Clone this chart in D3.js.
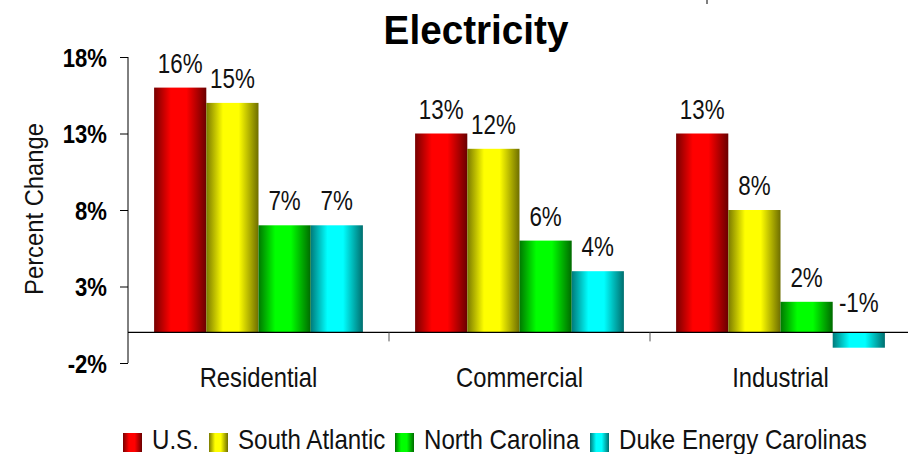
<!DOCTYPE html>
<html><head><meta charset="utf-8">
<script src="https://cdn.jsdelivr.net/npm/d3@7"></script>
<style>
body{margin:0;background:#fff;}
svg{display:block;font-family:"Liberation Sans",Arial,sans-serif;}
</style></head>
<body><svg id="c" width="908" height="454"></svg>
<script>
const categories = ["Residential","Commercial","Industrial"];
const seriesNames = ["U.S.","South Atlantic","North Carolina","Duke Energy Carolinas"];
const usValues = [16,13,13];
const southAtlanticValues = [15,12,8];
const northCarolinaValues = [7,6,2];
const dukeValues = [7,4,-1];
const yTicks = [-2,3,8,13,18];
const seriesValues = [usValues, southAtlanticValues, northCarolinaValues, dukeValues];
const baseColors = [["#780000","#ff0000","#6a0000"],["#7a7a00","#ffff00","#6e6e00"],["#007800","#00ff00","#006a00"],["#007a7a","#00ffff","#006e6e"]];

const svg = d3.select("#c");
const defs = svg.append("defs");
baseColors.forEach((c,i)=>{
  const g = defs.append("linearGradient").attr("id","g"+i).attr("x1","0").attr("x2","1").attr("y1","0").attr("y2","0");
  g.append("stop").attr("offset","0%").attr("stop-color",c[0]);
  g.append("stop").attr("offset","32%").attr("stop-color",c[1]);
  g.append("stop").attr("offset","62%").attr("stop-color",c[1]);
  g.append("stop").attr("offset","100%").attr("stop-color",c[2]);
});

// narrow text helper
function ntext(parent, x, y, sx, size, txt, anchor, weight, rot){
  const t = parent.append("text")
    .attr("transform",`translate(${x},${y})${rot?` rotate(${rot})`:""} scale(${sx},1)`)
    .attr("text-anchor",anchor||"start")
    .style("font-size",size+"px").attr("fill","#111").text(txt);
  if(weight) t.style("font-weight",weight);
  return t;
}

const x0 = d3.scaleBand().domain(categories).range([128,911]).paddingInner(0).paddingOuter(0);
const x1 = d3.scaleBand().domain(seriesNames).range([0,x0.bandwidth()]).paddingOuter(0.5).paddingInner(0);
const y = d3.scaleLinear().domain([-2,18]).range([363,57]);

// title
ntext(svg, 476, 44, 0.955, 40.5, "Electricity", "middle", "bold").attr("fill","#000");
svg.append("line").attr("x1",707).attr("x2",707).attr("y1",0).attr("y2",4).attr("stroke","#000");

// bars
const barData = (d,ci)=>seriesNames.map((s,si)=>({s,si,v:seriesValues[si][ci]}));
const groups = svg.append("g").selectAll("g").data(categories).join("g")
  .attr("transform",d=>`translate(${x0(d)},0)`);
groups.selectAll("rect").data(barData)
  .join("rect")
  .attr("x",d=>x1(d.s)).attr("width",x1.bandwidth())
  .attr("y",d=>y(Math.max(0,d.v))).attr("height",d=>Math.abs(y(d.v)-y(0)))
  .attr("fill",d=>`url(#g${d.si})`);
groups.each(function(cat,ci){
  const g = d3.select(this);
  barData(cat,ci).forEach(d=>{
    ntext(g, x1(d.s)+x1.bandwidth()/2, d.v>=0 ? y(d.v)-15 : y(0)-20, 0.8, 28, d.v+"%", "middle");
  });
});

// y axis
const yAxis = d3.axisLeft(y).tickValues(yTicks).tickSize(8).tickPadding(13).tickFormat(d=>d+"%");
const ya = svg.append("g").attr("transform","translate(128,0)").call(yAxis);
ya.select(".domain").attr("d","M0,57V363").attr("stroke","#000");
ya.selectAll(".tick line").attr("stroke","#000");
ya.selectAll(".tick text")
  .attr("transform","scale(0.85,1)").attr("x",-21/0.85).attr("dy","0.35em")
  .style("font-size","26px").style("font-weight","bold").attr("fill","#000")
  .style("font-family","'Liberation Sans',Arial,sans-serif");

// x axis at zero
svg.append("line").attr("x1",128).attr("x2",908).attr("y1",y(0)).attr("y2",y(0)).attr("stroke","#000").attr("stroke-width",1.2);
svg.append("g").selectAll("line").data(categories.slice(1)).join("line")
  .attr("x1",d=>x0(d)).attr("x2",d=>x0(d)).attr("y1",y(0)).attr("y2",y(0)+9).attr("stroke","#555");
const cl = svg.append("g");
categories.forEach(c=>ntext(cl, x0(c)+x0.bandwidth()/2, 387, 0.85, 28, c, "middle"));

// y label
ntext(svg, 43, 209, 0.915, 26, "Percent Change", "middle", null, -90);

// legend
const legX = [123,209,395,590];
const leg = svg.append("g").selectAll("g").data(seriesNames).join("g")
  .attr("transform",(d,i)=>`translate(${legX[i]},433)`);
leg.append("rect").attr("width",19).attr("height",19).attr("fill",(d,i)=>`url(#g${i})`);
leg.each(function(d){ ntext(d3.select(this), 29, 16, 0.893, 27, d, "start"); });
</script></body></html>
